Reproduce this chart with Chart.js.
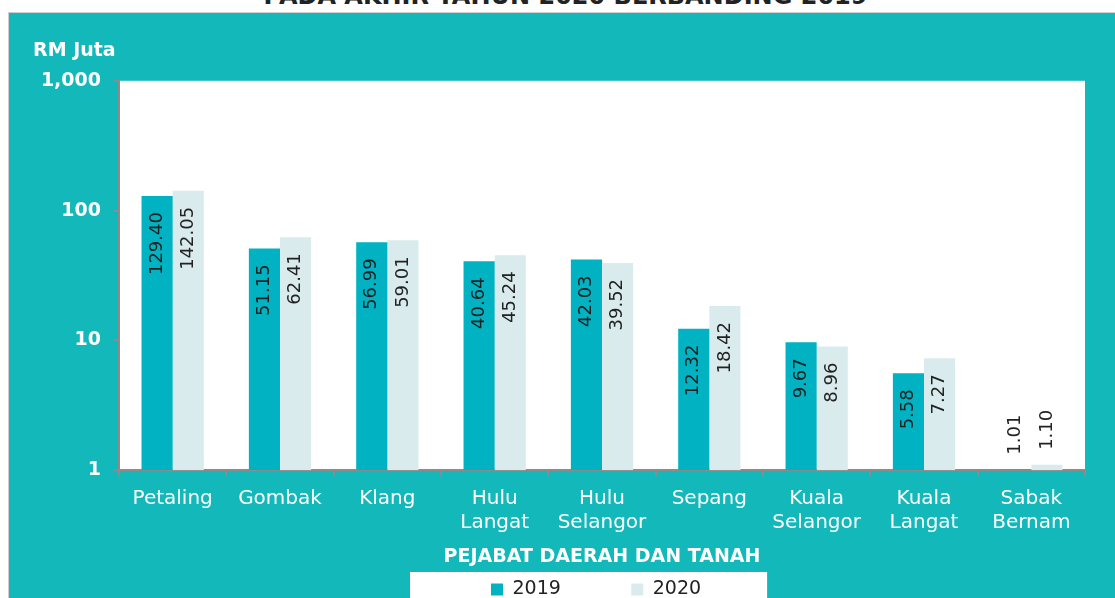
<!DOCTYPE html>
<html>
<head>
<meta charset="utf-8">
<script src="https://cdn.jsdelivr.net/npm/chart.js@4.4.1/dist/chart.umd.min.js"></script>
<style>
html,body{margin:0;padding:0;background:#fff;overflow:hidden;width:1115px;height:598px;}
#title{position:absolute;left:8px;width:1115px;top:-16px;text-align:center;font:bold 24px "DejaVu Sans";color:#222;line-height:24px;white-space:nowrap;}
#frame{position:absolute;left:8px;top:12px;width:1130px;height:640px;background:#13B8BA;border-top:1px solid #cfcfcf;border-left:1px solid #cfcfcf;}
#c{position:absolute;left:0;top:0;}
</style>
</head>
<body>
<div id="title">PADA AKHIR TAHUN 2020 BERBANDING 2019</div>
<div id="frame"><canvas id="c" width="1106" height="600"></canvas></div>
<script>
const categories = [
  "Petaling", "Gombak", "Klang", ["Hulu", "Langat"], ["Hulu", "Selangor"],
  "Sepang", ["Kuala", "Selangor"], ["Kuala", "Langat"], ["Sabak", "Bernam"]
]
const values2019 = [129.40, 51.15, 56.99, 40.64, 42.03, 12.32, 9.67, 5.58, 1.01]
const values2020 = [142.05, 62.41, 59.01, 45.24, 39.52, 18.42, 8.96, 7.27, 1.10]
const yTicks = [1, 10, 100, 1000]

const FONT = "DejaVu Sans"

// white plot area + white legend box
const backdrop = {
  id: "backdrop",
  beforeDraw(chart) {
    const ctx = chart.ctx, ca = chart.chartArea
    ctx.save()
    ctx.fillStyle = "#ffffff"
    ctx.fillRect(ca.left, ca.top, ca.right - ca.left, ca.bottom - ca.top)
    const lg = chart.legend
    if (lg && lg.legendHitBoxes.length) {
      const hb = lg.legendHitBoxes
      const l = hb[0].left - 81
      const r = hb[1].left + hb[1].width + 66
      ctx.fillRect(l, lg.top + 2, r - l, chart.height)
    }
    ctx.restore()
  }
}

// move legend so items sit under the plot like the original
const legendShift = {
  id: "legendShift",
  afterLayout(chart) {
    const lg = chart.legend, ca = chart.chartArea
    const pad = lg.options.labels.padding
    const cur = (lg.left + pad + lg.right - lg.lineWidths[0]) / 2
    const want = (ca.left + ca.right) / 2 - 111
    const dx = want - cur
    lg.left += dx
    lg.right += dx
  }
}

// rotated value labels
const barLabels = {
  id: "barLabels",
  afterDatasetsDraw(chart) {
    const ctx = chart.ctx
    ctx.save()
    ctx.font = "18px " + FONT
    ctx.fillStyle = "#222"
    ctx.textBaseline = "middle"
    chart.data.datasets.forEach((ds, di) => {
      chart.getDatasetMeta(di).data.forEach((bar, i) => {
        const txt = ds.data[i].toFixed(2)
        const w = ctx.measureText(txt).width
        const h = bar.base - bar.y
        ctx.save()
        ctx.translate(bar.x, 0)
        ctx.rotate(-Math.PI / 2)
        if (h > w + 24) {
          ctx.textAlign = "right"
          ctx.fillText(txt, -(bar.y + 16), 0)
        } else {
          ctx.textAlign = "left"
          ctx.fillText(txt, -(bar.y - 15), 0)
        }
        ctx.restore()
      })
    })
    ctx.restore()
  }
}

new Chart(
document.getElementById("c"),
{
type: "bar",
data: {
  labels: categories,
  datasets: [
    {
      label: "2019",
      data: values2019,
      backgroundColor: "#00B2C2",
      borderWidth: 0
    },
    {
      label: "2020",
      data: values2020,
      backgroundColor: "#DAEBEE",
      borderWidth: 0
    }
  ]
},
options: {
  responsive: false,
  animation: false,
  layout: {
    padding: { left: 24, right: 30, top: 0, bottom: 4 }
  },
  datasets: {
    bar: { categoryPercentage: 0.58, barPercentage: 1.0 }
  },
  scales: {
    x: {
      grid: {
        display: true,
        drawOnChartArea: false,
        tickLength: 6,
        color: "#8c8c8c",
        lineWidth: 2
      },
      border: { display: true, color: "#8c8c8c", width: 2 },
      ticks: {
        color: "#ffffff",
        font: { family: FONT, size: 20, lineHeight: 1.225 },
        padding: 10,
        maxRotation: 0,
        autoSkip: false
      },
      title: {
        display: true,
        text: "PEJABAT DAERAH DAN TANAH",
        color: "#ffffff",
        font: { family: FONT, size: 19, weight: "bold" },
        padding: { top: 0, bottom: 2 }
      }
    },
    y: {
      type: "logarithmic",
      min: 1,
      max: 1000,
      afterBuildTicks(scale) {
        scale.ticks = yTicks.map(v => ({ value: v }))
      },
      afterFit(scale) {
        scale.width = 86
      },
      grid: {
        display: true,
        drawOnChartArea: false,
        tickLength: 6,
        color: "#8c8c8c",
        lineWidth: 2
      },
      border: { display: true, color: "#8c8c8c", width: 2 },
      ticks: {
        color: "#ffffff",
        font: { family: FONT, size: 19, weight: "bold" },
        padding: 12,
        callback: v => v.toLocaleString("en-US")
      }
    }
  },
  plugins: {
    title: {
      display: true,
      text: "RM Juta",
      align: "start",
      color: "#ffffff",
      font: { family: FONT, size: 19, weight: "bold" },
      padding: { top: 27, bottom: 18 }
    },
    legend: {
      position: "bottom",
      labels: {
        color: "#222",
        font: { family: FONT, size: 19 },
        boxWidth: 12,
        boxHeight: 12,
        padding: 10,
        generateLabels(chart) {
          const items = Chart.defaults.plugins.legend.labels.generateLabels(chart)
          items[0].text = items[0].text + "\u00a0".repeat(10)
          return items
        }
      }
    },
    tooltip: { enabled: false }
  }
},
plugins: [backdrop, legendShift, barLabels]
}
)
</script>
</body>
</html>
